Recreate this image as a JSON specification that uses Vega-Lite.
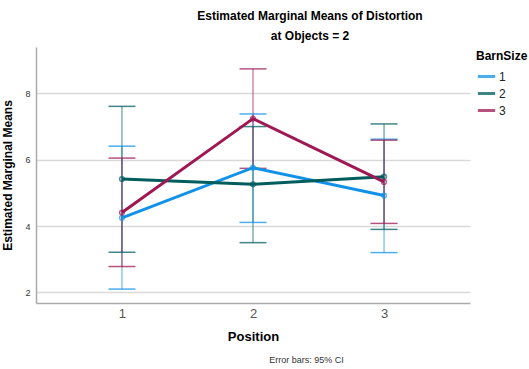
{
  "$schema": "https://vega.github.io/schema/vega-lite/v6.json",
  "autosize": {"type": "none"},
  "padding": {"left": 36, "top": 47, "right": 59, "bottom": 66},
  "width": 434,
  "height": 256,
  "background": "white",
  "config": {
    "font": "Liberation Sans",
    "view": {"stroke": null}
  },
  "title": {
    "text": "Estimated Marginal Means of Distortion",
    "subtitle": "at Objects = 2",
    "anchor": "middle",
    "frame": "group",
    "dx": 57,
    "fontSize": 12,
    "fontWeight": "bold",
    "subtitleFontSize": 12,
    "subtitleFontWeight": "bold",
    "subtitleColor": "#000000",
    "color": "#000000",
    "subtitlePadding": 8,
    "offset": 4
  },
  "data": {
    "values": [
      {"Position": 1, "BarnSize": "1", "mean": 4.25, "lower": 2.10, "upper": 6.41},
      {"Position": 2, "BarnSize": "1", "mean": 5.76, "lower": 4.11, "upper": 7.38},
      {"Position": 3, "BarnSize": "1", "mean": 4.92, "lower": 3.20, "upper": 6.62},
      {"Position": 1, "BarnSize": "2", "mean": 5.42, "lower": 3.21, "upper": 7.61},
      {"Position": 2, "BarnSize": "2", "mean": 5.26, "lower": 3.50, "upper": 7.00},
      {"Position": 3, "BarnSize": "2", "mean": 5.49, "lower": 3.90, "upper": 7.08},
      {"Position": 1, "BarnSize": "3", "mean": 4.41, "lower": 2.78, "upper": 6.05},
      {"Position": 2, "BarnSize": "3", "mean": 7.24, "lower": 5.74, "upper": 8.74},
      {"Position": 3, "BarnSize": "3", "mean": 5.33, "lower": 4.08, "upper": 6.59}
    ]
  },
  "encoding": {
    "color": {
      "field": "BarnSize",
      "type": "nominal",
      "scale": {"domain": ["1", "2", "3"], "range": ["#1192e8", "#005d5d", "#9f1853"]},
      "legend": {
        "title": "BarnSize",
        "orient": "right",
        "offset": 2,
        "padding": 4,
        "titleFontSize": 12,
        "titleFontWeight": "bold",
        "titleColor": "#000000",
        "labelFontSize": 12,
        "labelColor": "#222222",
        "symbolType": "stroke",
        "symbolStrokeWidth": 3,
        "symbolSize": 300,
        "rowPadding": -4,
        "labelOffset": 2,
        "titlePadding": 3
      }
    },
    "y": {
      "type": "quantitative",
      "scale": {"domain": [1.68, 9.4], "nice": false, "zero": false},
      "axis": {
        "title": "Estimated Marginal Means",
        "titleFontSize": 12,
        "titleFontWeight": "bold",
        "titleColor": "#000000",
        "titlePadding": 10,
        "values": [2, 4, 6, 8],
        "labelFontSize": 9,
        "labelColor": "#333333",
        "ticks": false,
        "labelPadding": 6,
        "domainColor": "#aaaaaa",
        "domainWidth": 1.5,
        "grid": true,
        "gridColor": "#d9d9d9",
        "gridWidth": 1.5
      }
    }
  },
  "layer": [
    {
      "layer": [
        {
          "mark": {"type": "rule", "strokeWidth": 1, "opacity": 0.75},
          "encoding": {
            "y": {"field": "lower", "type": "quantitative"},
            "y2": {"field": "upper"}
          }
        },
        {
          "mark": {"type": "tick", "size": 27, "thickness": 1.5, "opacity": 0.75},
          "encoding": {
            "y": {"field": "lower", "type": "quantitative"}
          }
        },
        {
          "mark": {"type": "tick", "size": 27, "thickness": 1.5, "opacity": 0.75},
          "encoding": {
            "y": {"field": "upper", "type": "quantitative"}
          }
        },
        {
          "mark": {"type": "line", "strokeWidth": 3},
          "encoding": {
            "y": {"field": "mean", "type": "quantitative"}
          }
        }
      ],
      "encoding": {
        "x": {
          "field": "Position",
          "type": "ordinal",
          "scale": {"type": "point", "padding": 0.656},
          "axis": {
            "title": "Position",
            "titleFontSize": 13,
            "titleFontWeight": "bold",
            "titleColor": "#000000",
            "titlePadding": 10,
            "labelFontSize": 13,
            "labelColor": "#555555",
            "labelAngle": 0,
            "labelPadding": 4,
            "ticks": false,
            "domainColor": "#aaaaaa",
            "domainWidth": 1.5,
            "grid": false
          }
        }
      }
    },
    {
      "mark": {"type": "point", "filled": false, "size": 22, "strokeWidth": 1.5},
      "encoding": {
        "x": {
          "field": "Position",
          "type": "ordinal",
          "scale": {"type": "point", "padding": 0.656},
          "axis": {
            "orient": "bottom",
            "title": "Error bars: 95% CI",
            "titleFontSize": 9,
            "titleFontWeight": "normal",
            "titleColor": "#333333",
            "titlePadding": 52,
            "titleX": 270,
            "labels": false,
            "ticks": false,
            "domain": false,
            "grid": false
          }
        },
        "y": {"field": "mean", "type": "quantitative"}
      }
    }
  ],
  "resolve": {"scale": {"x": "independent"}}
}
